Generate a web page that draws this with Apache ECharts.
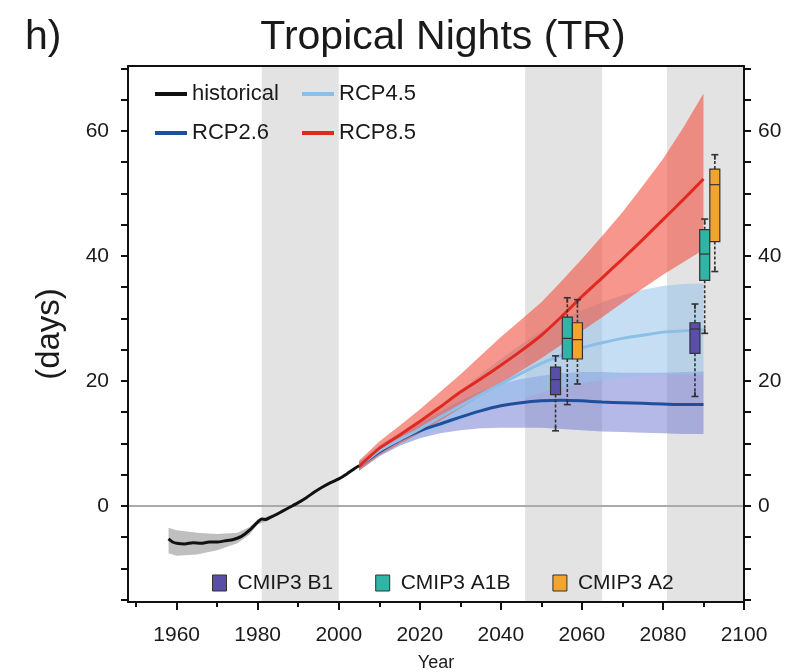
<!DOCTYPE html>
<html><head><meta charset="utf-8">
<script src="https://cdn.jsdelivr.net/npm/echarts@6/dist/echarts.min.js"></script>
<style>html,body{margin:0;padding:0;background:#fff}#c{width:799px;height:672px}</style>
</head><body><div id="c"></div>
<script>
// ---- tick labels / axes ----
const xTickLabels = [1960, 1980, 2000, 2020, 2040, 2060, 2080, 2100];
const xMinorTicks = [1950, 1970, 1990, 2010, 2030, 2050, 2070, 2090];
const yTickLabels = [0, 20, 40, 60];
const yMinorTicks = [-15, -10, -5, 0, 5, 10, 15, 20, 25, 30, 35, 40, 45, 50, 55, 60, 65, 70];
const refPeriods = [[1981, 2000], [2046, 2065], [2081, 2100]];

// ---- historical ----
const histYears = [1958,1959,1960,1962,1964,1966,1968,1970,1972,1974,1976,1978,1980,1981,1982,1983,1984,1986,1988,1990,1992,1994,1996,1998,2000,2002,2004,2005];
const histValues = [-5.3,-5.8,-6.0,-6.1,-5.9,-6.0,-5.8,-5.8,-5.6,-5.4,-4.9,-3.9,-2.6,-2.1,-2.2,-1.9,-1.6,-0.9,-0.2,0.5,1.3,2.2,3.0,3.7,4.3,5.1,6.0,6.4];
const histEnvYears = [1958,1960,1965,1970,1975,1978,1980,1982,1985];
const histEnvLow = [-7.6,-8.0,-7.8,-7.1,-6.0,-4.6,-3.0,-2.5,-1.4];
const histEnvHigh = [-3.5,-3.9,-4.3,-4.5,-4.3,-3.4,-2.2,-1.8,-1.0];

// ---- RCP scenarios ----
const rcpYears = [2005,2010,2015,2020,2025,2030,2035,2040,2045,2050,2055,2060,2065,2070,2075,2080,2085,2090];
const rcp85 = [6.3,9.2,11.3,13.5,15.8,18.2,20.3,22.5,24.8,27.3,30.3,33.5,36.5,39.5,42.6,45.8,49.0,52.3];
const rcp85Low = [5.6,8.1,9.9,11.6,13.6,15.6,17.6,19.6,21.6,23.6,25.8,28.0,30.2,32.5,34.8,37.0,39.0,41.0];
const rcp85High = [7.2,10.3,12.8,15.4,18.2,21.0,24.0,27.0,29.8,32.6,36.0,39.5,43.2,47.0,51.2,55.5,60.5,66.0];
const rcp45 = [6.3,8.8,10.6,12.3,14.2,16.0,17.8,19.5,21.2,22.8,24.1,25.3,26.1,26.8,27.3,27.8,28.0,28.2];
const rcp45Low = [5.6,8.0,9.6,11.0,12.3,13.6,14.8,16.0,17.1,18.1,18.9,19.6,20.1,20.5,20.8,21.0,21.0,21.0];
const rcp45High = [7.1,9.7,11.7,13.8,16.0,18.4,21.0,23.5,25.8,28.0,29.8,31.3,32.6,33.7,34.6,35.2,35.5,35.6];
const rcp26 = [6.3,8.6,10.5,12.0,13.1,14.2,15.2,16.0,16.5,16.8,16.9,16.8,16.6,16.5,16.4,16.3,16.2,16.2];
const rcp26Low = [5.6,7.9,9.6,10.8,11.6,12.1,12.4,12.5,12.5,12.5,12.3,12.1,11.9,11.8,11.7,11.6,11.5,11.5];
const rcp26High = [7.0,9.3,11.4,13.2,15.0,16.8,18.3,19.5,20.3,20.8,21.2,21.4,21.4,21.3,21.3,21.3,21.4,21.5];

// ---- CMIP3 box plots: [low, q1, median, q3, high] ----
const b1Years = [2053.5, 2087.9];
const b1Stats = [[12.0, 17.8, 20.2, 22.2, 24.0], [17.5, 24.4, 28.3, 29.3, 32.3]];
const a1bYears = [2056.4, 2090.3];
const a1bStats = [[16.2, 23.5, 26.8, 30.2, 33.3], [27.6, 36.1, 40.3, 44.2, 45.9]];
const a2Years = [2058.9, 2092.8];
const a2Stats = [[19.5, 23.5, 26.6, 29.3, 33.0], [37.5, 42.3, 51.4, 53.9, 56.2]];

const FONT = 'Liberation Sans';
const TXT = '#1a1a1a';

function pairs(xs, ys) { return xs.map((x, i) => [x, ys[i]]); }

function envSeries(name, years, lo, hi, color, z) {
  return {
    type: 'custom', name: name, z: z, silent: true, clip: true,
    data: years.map((y, i) => [y, lo[i], hi[i]]),
    encode: { x: 0, y: [1, 2] },
    renderItem: function (params, api) {
      if (params.dataIndex !== 0) return null;
      const pts = [];
      for (let i = 0; i < years.length; i++) pts.push(api.coord([years[i], hi[i]]));
      for (let i = years.length - 1; i >= 0; i--) pts.push(api.coord([years[i], lo[i]]));
      return { type: 'polygon', shape: { points: pts }, style: { fill: color } };
    }
  };
}

function lineSeries(name, xs, ys, color, z) {
  return {
    type: 'line', name: name, z: z, data: pairs(xs, ys), showSymbol: false, symbol: 'none',
    smooth: 0.2, color: color, lineStyle: { color: color, width: 3 }, silent: true
  };
}

function boxSeries(name, years, stats, color) {
  return {
    type: 'custom', name: name, z: 20, silent: true,
    itemStyle: { color: color, borderColor: '#333', borderWidth: 1 },
    data: years.map((y, i) => [y].concat(stats[i])),
    encode: { x: 0, y: [1, 2, 3, 4, 5] },
    renderItem: function (params, api) {
      const x = api.value(0);
      const lo = api.coord([x, api.value(1)]);
      const q1 = api.coord([x, api.value(2)]);
      const md = api.coord([x, api.value(3)]);
      const q3 = api.coord([x, api.value(4)]);
      const hi = api.coord([x, api.value(5)]);
      const cx = lo[0], w = 10, c = 3.5;
      const dash = { stroke: '#333', lineWidth: 1.6, lineDash: [3, 2] };
      const solid = { stroke: '#333', lineWidth: 1.6 };
      return {
        type: 'group', children: [
          { type: 'line', shape: { x1: cx, y1: q1[1], x2: cx, y2: lo[1] }, style: dash },
          { type: 'line', shape: { x1: cx, y1: q3[1], x2: cx, y2: hi[1] }, style: dash },
          { type: 'line', shape: { x1: cx - c, y1: lo[1], x2: cx + c, y2: lo[1] }, style: solid },
          { type: 'line', shape: { x1: cx, y1: lo[1], x2: cx, y2: lo[1] - 5 }, style: solid },
          { type: 'line', shape: { x1: cx - c, y1: hi[1], x2: cx + c, y2: hi[1] }, style: solid },
          { type: 'line', shape: { x1: cx, y1: hi[1], x2: cx, y2: hi[1] + 5 }, style: solid },
          { type: 'rect', shape: { x: cx - w / 2, y: q3[1], width: w, height: q1[1] - q3[1] },
            style: { fill: color, stroke: '#333', lineWidth: 1.2 } },
          { type: 'line', shape: { x1: cx - w / 2, y1: md[1], x2: cx + w / 2, y2: md[1] }, style: { stroke: '#333', lineWidth: 1.2 } }
        ]
      };
    }
  };
}

const chart = echarts.init(document.getElementById('c'), null, { renderer: 'canvas' });

const labelStyle = { fontFamily: FONT, fontSize: 21, color: TXT };

const option = {
  backgroundColor: '#fff',
  animation: false,
  title: [
    { text: 'h)', left: 20, top: 12, textStyle: { fontFamily: FONT, fontSize: 41, fontWeight: 'normal', color: TXT } },
    { text: 'Tropical Nights (TR)', left: 438, textAlign: 'center', top: 12, textStyle: { fontFamily: FONT, fontSize: 41, fontWeight: 'normal', color: TXT } }
  ],
  grid: { left: 128, right: 55, top: 66, bottom: 70, containLabel: false, outerBoundsMode: 'none' },
  legend: [
    { left: 150, top: 77, orient: 'vertical', itemGap: 15, icon: 'rect', itemWidth: 32, itemHeight: 4,
      textStyle: { fontFamily: FONT, fontSize: 22, color: TXT, lineHeight: 24 },
      data: ['historical', 'RCP2.6'], selectedMode: false },
    { left: 297, top: 77, orient: 'vertical', itemGap: 15, icon: 'rect', itemWidth: 32, itemHeight: 4,
      textStyle: { fontFamily: FONT, fontSize: 22, color: TXT, lineHeight: 24 },
      data: ['RCP4.5', 'RCP8.5'], selectedMode: false },
    { left: 207, top: 567, orient: 'horizontal', itemGap: 42, icon: 'rect', itemWidth: 14, itemHeight: 16,
      textStyle: { fontFamily: FONT, fontSize: 21, color: TXT, lineHeight: 22, padding: [0, 0, 0, 6] },
      itemStyle: { borderColor: '#333', borderWidth: 1 },
      data: ['CMIP3 B1', 'CMIP3 A1B', 'CMIP3 A2'], selectedMode: false }
  ],
  xAxis: [
    { type: 'value', position: 'bottom', min: 1948, max: 2100, z: 30,
      name: 'Year', nameLocation: 'middle', nameGap: 52,
      nameTextStyle: { fontFamily: FONT, fontSize: 18, color: TXT },
      axisLine: { onZero: false, lineStyle: { color: '#111', width: 2 } },
      axisTick: { show: true, customValues: xTickLabels, length: 8, lineStyle: { color: '#111', width: 2 } },
      axisLabel: { customValues: xTickLabels, margin: 23, formatter: v => String(v), ...labelStyle },
      splitLine: { show: false } },
    { type: 'value', position: 'bottom', min: 1948, max: 2100, z: 30,
      axisLine: { show: false, onZero: false },
      axisTick: { show: true, customValues: xMinorTicks, length: 5, lineStyle: { color: '#111', width: 2 } },
      axisLabel: { show: false }, splitLine: { show: false } },
    { type: 'value', position: 'top', min: 1948, max: 2100, z: 30,
      axisLine: { onZero: false, lineStyle: { color: '#111', width: 2 } },
      axisTick: { show: false }, axisLabel: { show: false }, splitLine: { show: false } }
  ],
  yAxis: [
    { type: 'value', position: 'left', min: -15.4, max: 70.4, z: 30,
      name: '(days)', nameLocation: 'middle', nameGap: 62, nameRotate: 90,
      nameTextStyle: { fontFamily: FONT, fontSize: 33, color: TXT },
      axisLine: { show: true, onZero: false, lineStyle: { color: '#111', width: 2 } },
      axisTick: { show: true, customValues: yMinorTicks, length: 7, lineStyle: { color: '#111', width: 2 } },
      axisLabel: { customValues: yTickLabels, margin: 19, ...labelStyle },
      splitLine: { show: false } },
    { type: 'value', position: 'right', min: -15.4, max: 70.4, z: 30,
      axisLine: { show: true, onZero: false, lineStyle: { color: '#111', width: 2 } },
      axisTick: { show: true, customValues: yMinorTicks, length: 7, lineStyle: { color: '#111', width: 2 } },
      axisLabel: { customValues: yTickLabels, margin: 14, ...labelStyle },
      splitLine: { show: false } }
  ],
  series: [
    { type: 'line', name: 'refs', data: [], z: 0, silent: true,
      markArea: { silent: true, z: 0, itemStyle: { color: '#e3e3e3' },
        data: refPeriods.map(p => [{ xAxis: p[0] }, { xAxis: p[1] }]) },
      markLine: { silent: true, z: 1, symbol: 'none', label: { show: false },
        lineStyle: { color: '#aaaaaa', width: 2, type: 'solid' },
        data: [{ yAxis: 0 }] } },
    envSeries('histEnv', histEnvYears, histEnvLow, histEnvHigh, 'rgba(170,170,170,0.75)', 2),
    envSeries('rcp26Env', rcpYears, rcp26Low, rcp26High, 'rgba(105,115,210,0.5)', 3),
    envSeries('rcp45Env', rcpYears, rcp45Low, rcp45High, 'rgba(150,195,235,0.55)', 3),
    envSeries('rcp85Env', rcpYears, rcp85Low, rcp85High, 'rgba(240,85,70,0.62)', 3),
    lineSeries('RCP2.6', rcpYears, rcp26, '#1f4e9a', 5),
    lineSeries('RCP4.5', rcpYears, rcp45, '#8dbfe6', 5),
    lineSeries('RCP8.5', rcpYears, rcp85, '#e02a20', 6),
    lineSeries('historical', histYears, histValues, '#111111', 7),
    boxSeries('CMIP3 B1', b1Years, b1Stats, '#5a4fa8'),
    boxSeries('CMIP3 A1B', a1bYears, a1bStats, '#2fb5a5'),
    boxSeries('CMIP3 A2', a2Years, a2Stats, '#f2a52a')
  ]
};
chart.setOption(option);
</script></body></html>
